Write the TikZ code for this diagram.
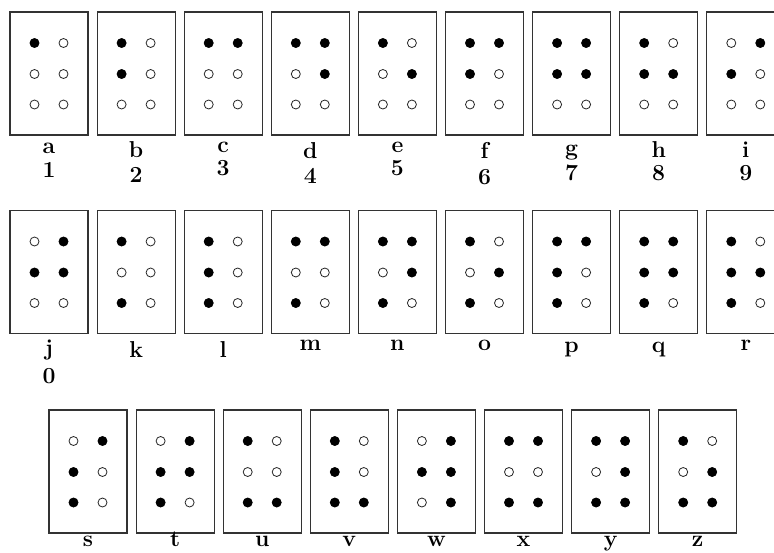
\documentclass[tikz,border=0pt]{standalone}
\usepackage{tikz}
\usetikzlibrary{calc}

\begin{document}
\begin{tikzpicture}[
    x=1pt, y=-1pt,
    cell/.style={rectangle, draw=black!80, line width=1.1pt, minimum width=78pt, minimum height=123pt, inner sep=0pt},
    hole/.style={circle, draw=black!85, fill=white, line width=0.8pt, minimum size=9pt, inner sep=0pt},
    pin/.style={circle, fill=black, minimum size=9.5pt, inner sep=0pt},
    sign/.style={font=\fontsize{23}{23}\selectfont\bfseries, anchor=base, inner sep=0pt}
]
\useasboundingbox (0,0) rectangle (774,552);

% Cells
\foreach \n/\x/\y/\on/\ly in {
    a/49/73.5/{1}/153, b/136.1/73.5/{1,2}/157, c/223.2/73.5/{1,4}/152,
    d/310.3/73.5/{1,4,5}/158, e/397.4/73.5/{1,5}/152, f/484.5/73.5/{1,2,4}/158,
    g/571.6/73.5/{1,2,4,5}/155, h/658.7/73.5/{1,2,5}/157, i/745.8/73.5/{2,4}/157,
    j/49/272/{2,4,5}/355, k/136.1/272/{1,3}/357, l/223.2/272/{1,2,3}/357,
    m/310.3/272/{1,3,4}/350, n/397.4/272/{1,3,4,5}/350, o/484.5/272/{1,3,5}/350,
    p/571.6/272/{1,2,3,4}/352, q/658.7/272/{1,2,3,4,5}/352, r/745.8/272/{1,2,3,5}/350,
    s/88/471.5/{2,3,4}/546, t/175.1/471.5/{2,3,4,5}/546, u/262.2/471.5/{1,3,6}/546,
    v/349.3/471.5/{1,2,3,6}/546, w/436.4/471.5/{2,4,5,6}/546, x/523.5/471.5/{1,3,4,6}/546,
    y/610.6/471.5/{1,3,4,5,6}/546, z/697.7/471.5/{1,3,5,6}/546} {
  \node[cell] (\n) at (\x,\y) {};
  \foreach \k/\dx/\dy in {1/-14.5/-30.5, 2/-14.5/0.5, 3/-14.5/31, 4/14.5/-30.5, 5/14.5/0.5, 6/14.5/31}
    \node[hole] (\n-\k) at ($(\n)+(\dx,\dy)$) {};
  \foreach \k in \on
    \node[pin] (\n-p\k) at (\n-\k) {};
  \node[sign] (\n-t) at (\x,\ly) {\n};
}

% Digits
\foreach \n/\d/\dy in {a/1/177, b/2/182, c/3/175, d/4/183, e/5/175, f/6/184, g/7/180, h/8/180, i/9/180, j/0/383}
  \node[sign] (\n-d) at (\n |- 0,\dy) {\d};
\end{tikzpicture}
\end{document}
